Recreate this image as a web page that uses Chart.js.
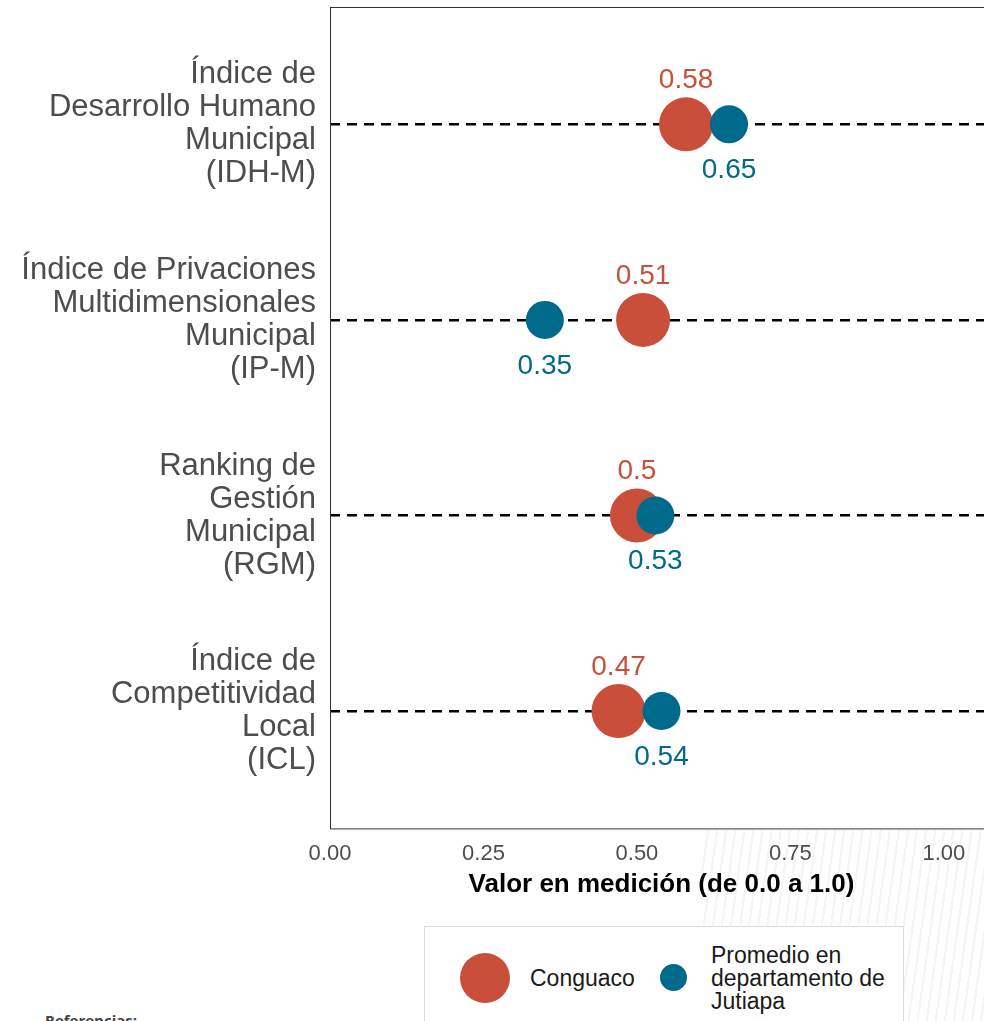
<!DOCTYPE html>
<html>
<head>
<meta charset="utf-8">
<script src="https://cdn.jsdelivr.net/npm/chart.js@4.4.1/dist/chart.umd.min.js"></script>
<style>
  body { margin: 0; background: #fff; width: 984px; height: 1021px; overflow: hidden; position: relative;
         font-family: "Liberation Sans", Arial, sans-serif; }
  .marca { position: absolute; left: 700px; top: 830px; width: 284px; height: 191px;
           background: repeating-linear-gradient(98deg, rgba(255,255,255,0) 0 7px, rgba(214,200,178,0.18) 7px 9px); }
  #wrap { position: absolute; left: 0; top: 0; width: 1000px; height: 900px; }
  .leyenda { position: absolute; left: 424px; top: 926px; width: 478px; height: 120px;
             border: 1px solid #dcdcdc; background: #fff; }
  .leyenda .punto { position: absolute; border-radius: 50%; }
  .leyenda .txt { position: absolute; font-size: 23px; line-height: 23px; color: #1a1a1a; }
  .refs { position: absolute; left: 45px; top: 1010px; font-family: "Open Sans", sans-serif;
          font-weight: bold; font-size: 15px; color: #444; }
</style>
</head>
<body>
<div class="marca"></div>
<div id="wrap"><canvas id="grafica"></canvas></div>
<div class="leyenda" id="leyenda"></div>
<div class="refs">Referencias:</div>

<script>
// indicadores (de arriba hacia abajo)
var indicadores = [
  ["Índice de", "Desarrollo Humano", "Municipal", "(IDH-M)"],
  ["Índice de Privaciones", "Multidimensionales", "Municipal", "(IP-M)"],
  ["Ranking de", "Gestión", "Municipal", "(RGM)"],
  ["Índice de", "Competitividad", "Local", "(ICL)"]
];
var conguaco = [0.58, 0.51, 0.5, 0.47];
var jutiapa = [0.65, 0.35, 0.53, 0.54];
var ticksX = [0, 0.25, 0.5, 0.75, 1];

var serieMunicipio = "Conguaco";
var serieDepto = ["Promedio en", "departamento de", "Jutiapa"];
var colorMunicipio = "#C94F3A";
var colorDepto = "#006A8D";

var fuente = '"Liberation Sans", Arial, sans-serif';

// marco alrededor del área de la gráfica
var marco = {
  id: 'marco',
  afterDraw: function(chart) {
    var a = chart.chartArea, ctx = chart.ctx;
    ctx.save();
    ctx.strokeStyle = '#333';
    ctx.lineWidth = 1;
    ctx.strokeRect(a.left + 0.5, a.top + 0.5, a.right - a.left, a.bottom - a.top);
    ctx.restore();
  }
};

// valores encima (municipio) y debajo (departamento) de cada punto
var etiquetas = {
  id: 'etiquetas',
  afterDatasetsDraw: function(chart) {
    var ctx = chart.ctx;
    ctx.save();
    ctx.font = '28px ' + fuente;
    ctx.textAlign = 'center';
    ctx.textBaseline = 'middle';
    chart.data.datasets.forEach(function(ds, i) {
      var meta = chart.getDatasetMeta(i);
      meta.data.forEach(function(p, j) {
        ctx.fillStyle = ds.backgroundColor;
        ctx.fillText(String(ds.data[j].x), p.x, p.y + ds.desfase);
      });
    });
    ctx.restore();
  }
};

var ctx = document.getElementById('grafica').getContext('2d');
new Chart(ctx, {
  type: 'scatter',
  data: {
    datasets: [
      {
        label: serieMunicipio,
        data: conguaco.map(function(v, i) { return {x: v, y: i}; }),
        backgroundColor: colorMunicipio,
        borderWidth: 0,
        pointRadius: 27,
        pointHoverRadius: 27,
        desfase: -44,
        order: 2
      },
      {
        label: serieDepto.join(' '),
        data: jutiapa.map(function(v, i) { return {x: v, y: i}; }),
        backgroundColor: colorDepto,
        borderWidth: 0,
        pointRadius: 19,
        pointHoverRadius: 19,
        desfase: 46,
        order: 1
      }
    ]
  },
  options: {
    responsive: true,
    maintainAspectRatio: false,
    animation: false,
    layout: { autoPadding: false, padding: { top: 7, right: 7, left: 0, bottom: 0 } },
    plugins: { legend: { display: false }, tooltip: { enabled: false } },
    scales: {
      x: {
        type: 'linear',
        min: 0,
        max: 1.08,
        afterBuildTicks: function(s) { s.ticks = ticksX.map(function(v) { return {value: v}; }); },
        afterFit: function(s) { s.paddingLeft = 0; s.paddingRight = 0; },
        ticks: {
          padding: 12,
          color: '#4d4d4d',
          font: { family: fuente, size: 22 },
          callback: function(v) { return Number(v).toFixed(2); }
        },
        grid: { display: false, drawTicks: false },
        border: { display: false },
        title: {
          display: true,
          text: 'Valor en medición (de 0.0 a 1.0)',
          color: '#000',
          font: { family: fuente, size: 26, weight: 'bold' },
          padding: { top: -10, bottom: 0 }
        }
      },
      y: {
        type: 'linear',
        reverse: true,
        min: -0.6,
        max: 3.6,
        afterBuildTicks: function(s) { s.ticks = indicadores.map(function(_, i) { return {value: i}; }); },
        afterFit: function(s) { s.width = 330; s.paddingTop = 0; s.paddingBottom = 0; },
        ticks: {
          padding: 14,
          color: '#4d4d4d',
          font: { family: fuente, size: 31, lineHeight: 1.065 },
          callback: function(v) { return indicadores[v]; }
        },
        grid: { color: '#000', lineWidth: 2.6, drawTicks: false },
        border: { display: false, dash: [10, 7] }
      }
    }
  },
  plugins: [marco, etiquetas]
});

// leyenda
var ley = document.getElementById('leyenda');
ley.innerHTML =
  '<div class="punto" style="left:35px;top:26px;width:50px;height:50px;background:' + colorMunicipio + '"></div>' +
  '<div class="txt" style="left:105px;top:40px">' + serieMunicipio + '</div>' +
  '<div class="punto" style="left:235px;top:37px;width:27px;height:27px;background:' + colorDepto + '"></div>' +
  '<div class="txt" style="left:286px;top:17px">' + serieDepto.join('<br>') + '</div>';
</script>
</body>
</html>
